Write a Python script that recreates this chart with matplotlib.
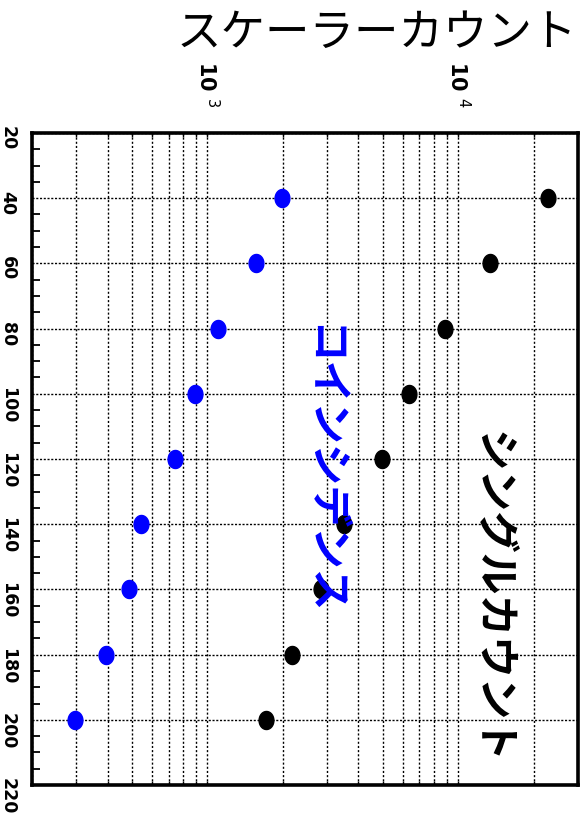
import numpy as np
import matplotlib
matplotlib.use("Agg")
import matplotlib.pyplot as plt

plt.rcParams['font.family'] = ['Noto Sans CJK JP', 'DejaVu Sans']

# channel / setting values (vertical axis after rotation)
setting = [40, 60, 80, 100, 120, 140, 160, 180, 200]
# single counts (black) and coincidence counts (blue)
singles = [22700, 13400, 8830, 6370, 4980, 3510, 2840, 2180, 1710]
coinc = [1990, 1556, 1100, 891, 741, 543, 487, 394, 297]

y_ticks = list(range(20, 221, 20))
y_ticklabels = [str(v) for v in y_ticks]
x_ticks = [1e3, 1e4]
x_ticklabels = ['10 $^{3}$', '10 $^{4}$']

# slightly tall ellipse, like the dots in the scan
t = np.linspace(0, 2 * np.pi, 40)
ell = np.column_stack([0.82 * np.cos(t), np.sin(t)])

W, H = 586, 813
fig = plt.figure(figsize=(W / 100, H / 100), dpi=100)
ax = fig.add_axes([32 / W, 1 - 785 / H, (578 - 32) / W, (785 - 133) / H])

ax.plot(singles, setting, linestyle='none', marker=ell, color='black',
        markersize=13, zorder=3)
ax.plot(coinc, setting, linestyle='none', marker=ell, color='#0000ff',
        markeredgecolor='#0000ff', markersize=13, zorder=3)

ax.set_xscale('log')
ax.set_xlim(200, 30000)
ax.set_ylim(220, 20)

ax.xaxis.tick_top()
ax.set_xticks(x_ticks)
ax.set_xticklabels(x_ticklabels, rotation=-90, fontsize=15, fontweight='bold',
                   family='DejaVu Sans')
ax.tick_params(axis='x', which='both', direction='in', top=True, bottom=True,
               length=3, width=1, pad=18)

ax.set_yticks(y_ticks)
ax.set_yticklabels(y_ticklabels, rotation=-90, fontsize=12.5, fontweight='bold',
                   family='DejaVu Sans')
ax.set_yticks(np.arange(20, 221, 5), minor=True)
ax.tick_params(axis='y', which='major', direction='in', length=0, pad=11)
ax.tick_params(axis='y', which='minor', direction='in', length=6, width=1.3)

ax.grid(True, which='both', axis='x', color='black', linestyle=(0, (1.5, 1.5)),
        linewidth=1.0)
ax.grid(True, which='major', axis='y', color='black', linestyle=(0, (1.5, 1.2)),
        linewidth=1.0)

for s in ax.spines.values():
    s.set_linewidth(2.6)

fig.text(377 / W, 1 - 33 / H, 'スケーラーカウント', fontsize=32,
         ha='center', va='center')
fig.text(491 / W, 1 - 597 / H, 'シングルカウント', fontsize=30,
         fontweight='bold', rotation=-90, ha='center', va='center')
fig.text(323 / W, 1 - 470 / H, 'コインシデンス', fontsize=30, color='#0000ff',
         fontweight='bold', rotation=-90, ha='center', va='center')

fig.savefig('out.png', dpi=100)
